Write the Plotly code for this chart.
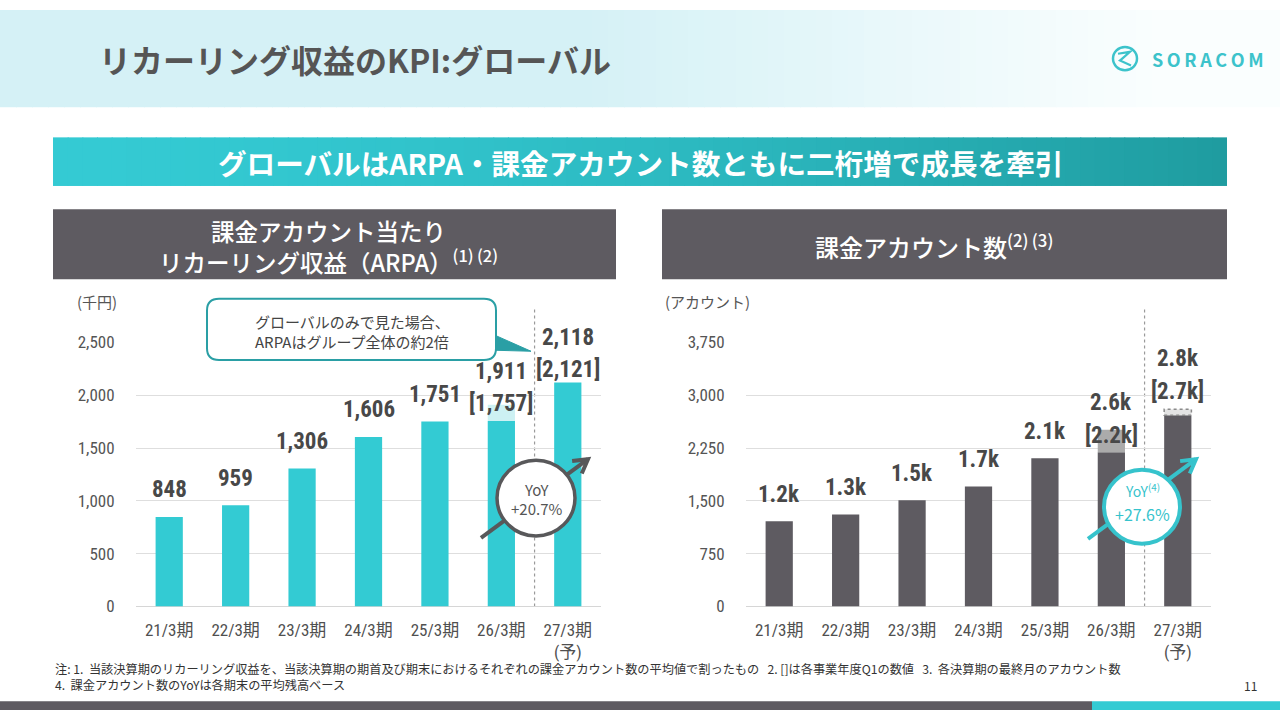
import math
import plotly.graph_objects as go

W, H = 1280, 720

# ---------------- data ----------------
categories = ["21/3期", "22/3期", "23/3期", "24/3期", "25/3期", "26/3期", "27/3期"]
tick_labels = ["21/3期", "22/3期", "23/3期", "24/3期", "25/3期", "26/3期", "27/3期<br>(予)"]

arpa = [848, 959, 1306, 1606, 1751, 1911, 2118]
arpa_q1 = [None, None, None, None, None, 1757, 2121]
arpa_ticks = [0, 500, 1000, 1500, 2000, 2500]

accounts = [1210, 1305, 1510, 1705, 2105, 2510, 2800]
accounts_q1 = [None, None, None, None, None, 2190, 2715]
account_labels = ["1.2k", "1.3k", "1.5k", "1.7k", "2.1k", "2.6k", "2.8k"]
account_q1_labels = [None, None, None, None, None, "[2.2k]", "[2.7k]"]
account_ticks = [0, 750, 1500, 2250, 3000, 3750]

# ---------------- styles ----------------
CJK = "Noto Sans CJK JP, Noto Sans, sans-serif"
NUM = "Roboto Condensed, Liberation Sans Narrow, DejaVu Sans Condensed, Noto Sans CJK JP, sans-serif"
TEAL = "#33CBD3"
TEAL_LIGHT = "#CDF1F3"
DARK = "#5E5B61"
GRAY_EXT = "#ABABAB"
GRAY_FC = "#E3E3E3"
BAR_W = 0.41


def PX(px):
    return px / W


def PY(py):
    return 1 - py / H


shapes = []
ann = []


def rect(x0, y0, x1, y1, fill, layer="below", line=None):
    shapes.append(dict(type="rect", xref="paper", yref="paper",
                       x0=PX(x0), x1=PX(x1), y0=PY(y1), y1=PY(y0),
                       fillcolor=fill, line=line or dict(width=0), layer=layer))


def text(px, py, s, size, color, weight="normal", xanchor="center", family=CJK):
    ann.append(dict(x=PX(px), y=PY(py), xref="paper", yref="paper", text=s,
                    showarrow=False, xanchor=xanchor, yanchor="middle", align=xanchor if xanchor != "center" else "center",
                    font=dict(family=family, size=size, color=color, weight=weight)))


def hexmix(c0, c1, t):
    a = [int(c0[i:i + 2], 16) for i in (1, 3, 5)]
    b = [int(c1[i:i + 2], 16) for i in (1, 3, 5)]
    return "#" + "".join(f"{round(a[k] + (b[k] - a[k]) * t):02x}" for k in range(3))


# header gradient band
N = 80
for i in range(N):
    x0 = i * W / N
    x1 = (i + 1) * W / N + 1
    t = (x0 / W - 0.45) / 0.45
    t = max(0.0, min(1.0, t))
    rect(x0, 0, x1, 100, hexmix("#D5F1F6", "#FAFEFE", t))

# teal banner gradient
bx0, bx1 = 53, 1227
for i in range(N):
    x0 = bx0 + i * (bx1 - bx0) / N
    x1 = min(bx1, bx0 + (i + 1) * (bx1 - bx0) / N + 1)
    t = i / (N - 1)
    t = t ** 1.6
    rect(x0, 131, x1, 181, hexmix("#34CAD3", "#1F9CA0", t))

# sub-header boxes
rect(53, 205, 616, 277, DARK)
rect(662, 205, 1227, 277, DARK)

# bottom bar
rect(0, 711, 1092, 720, DARK)
rect(1092, 711, 1280, 720, TEAL)

# logo
shapes.append(dict(type="circle", xref="paper", yref="paper",
                   x0=PX(1113), x1=PX(1137), y0=PY(62), y1=PY(38),
                   line=dict(color="#3CC3CB", width=2.5), fillcolor="rgba(0,0,0,0)"))
shapes.append(dict(type="path", xref="paper", yref="paper",
                   path=f"M{PX(1118)},{PY(45)} L{PX(1130)},{PY(43)} L{PX(1120)},{PY(52)} L{PX(1131)},{PY(57)}",
                   line=dict(color="#3CC3CB", width=2.2)))
text(1208, 50, "S\u2009O\u2009R\u2009A\u2009C\u2009O\u2009M", 18, "#3CC3CB", "bold")

# titles
text(97, 50, "リカーリング収益のKPI:グローバル", 32, "#555555", "bold", "left")
text(640, 157, "グローバルはARPA・課金アカウント数ともに二桁増で成長を牽引", 28.6, "white", "bold")
text(328, 227, "課金アカウント当たり", 23.5, "white", 500)
text(328, 258, "リカーリング収益（ARPA）<sup>(1)\u2009(2)</sup>", 23.5, "white", 500)
text(934, 243, "課金アカウント数<sup>(2)\u2009(3)</sup>", 24, "white", 500)

# unit labels
text(97, 300, "(千円)", 15, "#555555")
text(707, 300, "(アカウント)", 15, "#555555")

# footnotes (one block, two lines)
text(53, 686, "注: 1.  当該決算期のリカーリング収益を、当該決算期の期首及び期末におけるそれぞれの課金アカウント数の平均値で割ったもの   2. []は各事業年度Q1の数値   3.  各決算期の最終月のアカウント数"
     "<br>4.  課金アカウント数のYoYは各期末の平均残高ベース",
     12.2, "#333333", "normal", "left")
text(1250, 695, "11", 12, "#333333")

# ---------------- bars ----------------
xs = list(range(len(categories)))
arpa_solid = [q if q is not None else v for v, q in zip(arpa, arpa_q1)]
arpa_ext = [max(0, v - s) for v, s in zip(arpa, arpa_solid)]
acc_solid = [q if q is not None else v for v, q in zip(accounts, accounts_q1)]
acc_ext = [max(0, v - s) for v, s in zip(accounts, acc_solid)]
acc_ext_colors = [GRAY_EXT if i < len(xs) - 1 else GRAY_FC for i in xs]

fig = go.Figure()
fig.add_trace(go.Bar(x=xs, y=arpa_solid, width=BAR_W, marker=dict(color=TEAL, line=dict(width=0)),
                     xaxis="x", yaxis="y", hoverinfo="skip"))
fig.add_trace(go.Bar(x=xs, y=arpa_ext, base=arpa_solid, width=BAR_W,
                     marker=dict(color=TEAL_LIGHT, line=dict(width=0)),
                     xaxis="x", yaxis="y", hoverinfo="skip"))
fig.add_trace(go.Bar(x=xs, y=acc_solid, width=BAR_W, marker=dict(color=DARK, line=dict(width=0)),
                     xaxis="x2", yaxis="y2", hoverinfo="skip"))
fig.add_trace(go.Bar(x=xs, y=acc_ext, base=acc_solid, width=BAR_W,
                     marker=dict(color=acc_ext_colors, line=dict(width=0)),
                     xaxis="x2", yaxis="y2", hoverinfo="skip"))

# dashed outline for forecast increment (right chart)
i = len(xs) - 1
if acc_ext[i] > 0:
    shapes.append(dict(type="rect", xref="x2", yref="y2", x0=i - BAR_W / 2, x1=i + BAR_W / 2,
                       y0=acc_solid[i], y1=accounts[i], line=dict(color="#8A8A8A", width=1.5, dash="dot"),
                       fillcolor="rgba(0,0,0,0)", layer="above"))

# forecast separators
for xr in ("x", "x2"):
    shapes.append(dict(type="line", xref=xr, yref="paper", x0=len(xs) - 1.5, x1=len(xs) - 1.5,
                       y0=PY(613.5), y1=PY(307), line=dict(color="#9A9A9A", width=1.2, dash="dot"),
                       layer="below"))

# value labels
LBL = "#484848"
LF = dict(family=NUM, size=23, color=LBL, weight="bold")
for i in xs:
    if arpa_q1[i] is None:
        ann.append(dict(x=i, y=arpa[i], xref="x", yref="y", text=f"{arpa[i]:,}", showarrow=False,
                        yanchor="middle", yshift=27, font=LF))
    else:
        top = max(arpa[i], arpa_q1[i])
        off = 1 if arpa[i] > arpa_q1[i] else 13
        ann.append(dict(x=i, y=top, xref="x", yref="y", text=f"[{arpa_q1[i]:,}]", showarrow=False,
                        yanchor="middle", yshift=off, font=LF))
        ann.append(dict(x=i, y=top, xref="x", yref="y", text=f"{arpa[i]:,}", showarrow=False,
                        yanchor="middle", yshift=off + 32, font=LF))
    if accounts_q1[i] is None:
        ann.append(dict(x=i, y=accounts[i], xref="x2", yref="y2", text=account_labels[i], showarrow=False,
                        yanchor="middle", yshift=27, font=LF))
    else:
        top = max(accounts[i], accounts_q1[i])
        off = -6 if i < len(xs) - 1 else 18
        ann.append(dict(x=i, y=top, xref="x2", yref="y2", text=account_q1_labels[i], showarrow=False,
                        yanchor="middle", yshift=off, font=LF))
        ann.append(dict(x=i, y=top, xref="x2", yref="y2", text=account_labels[i], showarrow=False,
                        yanchor="middle", yshift=off + 33, font=LF))

# ---------------- callout ----------------
cx0, cy0, cx1, cy1, r = 207, 297, 496, 360, 12
CT = "#2A9FA5"
path = (f"M{PX(cx0 + r)},{PY(cy0)} L{PX(cx1 - r)},{PY(cy0)} Q{PX(cx1)},{PY(cy0)} {PX(cx1)},{PY(cy0 + r)} "
        f"L{PX(cx1)},{PY(cy1 - r)} Q{PX(cx1)},{PY(cy1)} {PX(cx1 - r)},{PY(cy1)} "
        f"L{PX(cx0 + r)},{PY(cy1)} Q{PX(cx0)},{PY(cy1)} {PX(cx0)},{PY(cy1 - r)} "
        f"L{PX(cx0)},{PY(cy0 + r)} Q{PX(cx0)},{PY(cy0)} {PX(cx0 + r)},{PY(cy0)} Z")
shapes.append(dict(type="path", xref="paper", yref="paper", path=path, fillcolor="white",
                   line=dict(color=CT, width=2), layer="above"))
shapes.append(dict(type="path", xref="paper", yref="paper",
                   path=f"M{PX(496)},{PY(335)} L{PX(531)},{PY(351)} L{PX(496)},{PY(350)} Z",
                   fillcolor=CT, line=dict(color=CT, width=1), layer="above"))
text(352, 320, "グローバルのみで見た場合、", 15, "#444444")
text(352, 341, "ARPAはグループ全体の約2倍", 15, "#444444")


# ---------------- YoY bubbles ----------------
def arrow(x0, y0, x1, y1, color, width):
    shapes.append(dict(type="line", xref="paper", yref="paper", x0=PX(x0), y0=PY(y0), x1=PX(x1), y1=PY(y1),
                       line=dict(color=color, width=width), layer="above"))
    ang = math.atan2(y1 - y0, x1 - x0)
    L = 16
    pts = []
    for da in (math.radians(150), math.radians(-150)):
        pts.append((x1 + L * math.cos(ang + da), y1 + L * math.sin(ang + da)))
    p = f"M{PX(pts[0][0])},{PY(pts[0][1])} L{PX(x1)},{PY(y1)} L{PX(pts[1][0])},{PY(pts[1][1])}"
    shapes.append(dict(type="path", xref="paper", yref="paper", path=p,
                       line=dict(color=color, width=width), layer="above"))


def bubble(cx, cy, rr, color, width):
    shapes.append(dict(type="circle", xref="paper", yref="paper", x0=PX(cx - rr), x1=PX(cx + rr),
                       y0=PY(cy + rr), y1=PY(cy - rr), fillcolor="white",
                       line=dict(color=color, width=width), layer="above"))


arrow(481, 543, 588, 462, "#58585A", 4)
bubble(536, 502, 39, "#58585A", 3.5)
text(536, 493, "YoY", 15, "#555555")
text(536, 513, "+20.7%", 15, "#555555")

YT = "#36C3CC"
arrow(1088, 544, 1196, 462, YT, 4)
bubble(1142, 511, 38, YT, 4)
text(1142, 494, "YoY<sup>(4)</sup>", 14, YT)
text(1142, 518, "+27.6%", 16, YT)

# ---------------- layout ----------------
xa = dict(range=[-0.5, len(xs) - 0.5], tickvals=xs, ticktext=tick_labels, showgrid=False,
          zeroline=False, showline=False, ticks="outside", ticklen=8, tickcolor="rgba(0,0,0,0)",
          tickfont=dict(family=NUM, size=17, color="#505050"), fixedrange=True)
ya = dict(showgrid=True, gridcolor="#DEDEDE", gridwidth=1, zeroline=True, zerolinecolor="#D6D6D6",
          zerolinewidth=1.2, showline=False, ticks="outside", ticklen=17, tickcolor="rgba(0,0,0,0)",
          tickformat=",d", tickfont=dict(family=NUM, size=17, color="#555555"), fixedrange=True)

fig.update_layout(
    width=W, height=H, margin=dict(l=0, r=0, t=0, b=0),
    paper_bgcolor="white", plot_bgcolor="rgba(0,0,0,0)",
    showlegend=False, barmode="overlay", hovermode=False,
    xaxis=dict(xa, domain=[PX(136), PX(601)], anchor="y"),
    yaxis=dict(ya, domain=[PY(613.5), PY(342)], range=[0, arpa_ticks[-1]], tickvals=arpa_ticks, anchor="x"),
    xaxis2=dict(xa, domain=[PX(746), PX(1211)], anchor="y2"),
    yaxis2=dict(ya, domain=[PY(613.5), PY(342)], range=[0, account_ticks[-1]], tickvals=account_ticks, anchor="x2"),
    shapes=shapes, annotations=ann,
)

post = "document.body.style.margin='0';document.body.style.overflow='hidden';"
fig.write_html("out.html", config={"displayModeBar": False, "responsive": False}, post_script=post)
